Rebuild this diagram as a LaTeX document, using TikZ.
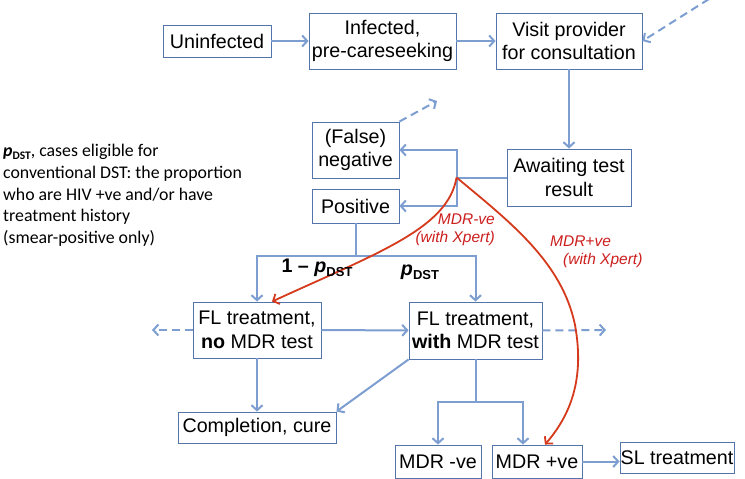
\documentclass[tikz,border=0pt]{standalone}
\usepackage{fontspec}
\setmainfont{Liberation Sans}
\newfontfamily\calfont{Carlito}
\usetikzlibrary{arrows.meta,calc}
\definecolor{boxc}{RGB}{84,116,172}
\definecolor{arrc}{RGB}{125,158,208}
\definecolor{redc}{RGB}{213,58,28}
\definecolor{redt}{RGB}{205,30,30}
\newcommand\pdst{{\bfseries\itshape p}\raisebox{-4pt}{\fontsize{13}{13}\selectfont\bfseries DST}}
\begin{document}
\begin{tikzpicture}[x=1pt,y=-1pt,
  box/.style={draw=boxc,line width=0.9pt,inner sep=0pt,align=center,
    font=\fontsize{19.7}{23.5}\selectfont,text=black},
  arr/.style={draw=arrc,line width=2pt,-{Straight Barb[length=5pt,width=11pt]}},
  plain/.style={draw=arrc,line width=2pt},
  dasharr/.style={arr,dash pattern=on 8pt off 5pt},
  redarr/.style={draw=redc,line width=1.8pt,-{Straight Barb[length=5pt,width=11pt]}},
  redlab/.style={text=redt,font=\fontsize{15.5}{18}\selectfont\itshape,inner sep=0pt},
  blab/.style={font=\fontsize{19.7}{23}\selectfont,inner sep=0pt}]
\fill[white] (0,0) rectangle (745,479);
\useasboundingbox (0,0) rectangle (745,479);

% boxes
\node[box,minimum width=108pt,minimum height=32pt] (unin) at (217,41) {Uninfected};
\node[box,minimum width=147pt,minimum height=56pt] (inf) at (382.5,41) {Infected,\\pre-careseeking};
\node[box,minimum width=146pt,minimum height=56pt] (visit) at (569,41) {Visit provider\\for consultation};
\node[box,minimum width=124pt,minimum height=57pt] (await) at (569,177.5) {Awaiting test\\result};
\node[box,minimum width=87pt,minimum height=56pt] (fneg) at (355.5,150) {(False)\\negative};
\node[box,minimum width=87pt,minimum height=34pt] (pos) at (355.5,206) {Positive};
\node[box,minimum width=128pt,minimum height=56pt] (flno) at (257,330) {FL treatment,\\\textbf{no} MDR test};
\node[box,minimum width=133pt,minimum height=57pt] (flwith) at (475.5,330.5) {FL treatment,\\\textbf{with} MDR test};
\node[box,minimum width=158pt,minimum height=31pt] (comp) at (257,427.5) {Completion, cure};
\node[box,minimum width=86pt,minimum height=33pt] (mdrn) at (438,461.5) {MDR -ve};
\node[box,minimum width=90pt,minimum height=33pt] (mdrp) at (537,461.5) {MDR +ve};
\node[box,minimum width=114pt,minimum height=31pt] (sl) at (677,457.5) {SL treatment};

% note
\node[anchor=north west,align=left,inner sep=0pt,font=\calfont\fontsize{17.8}{21.8}\selectfont] (note) at (3,144)
 {{\bfseries\itshape p}\raisebox{-3pt}{\fontsize{11.5}{11.5}\selectfont\bfseries DST}, cases eligible for\\
  conventional DST: the proportion\\who are HIV +ve and/or have\\treatment history\\(smear-positive only)};

% coordinates
\coordinate (j) at ($(await.west)+(-50,0)$);
\coordinate (bar) at ($(pos.south)+(0,33)$);
\coordinate (bar2) at ($(flwith.south)+(0,43)$);
\coordinate (d1) at (709,-1);
\coordinate (d2) at (437,101);
\coordinate (d3) at (152,330);
\coordinate (d4) at (606,330);

% blue connectors
\draw[arr] (unin) -- (inf);
\draw[arr] (inf) -- (visit);
\draw[arr] (visit) -- (await);
\draw[plain] (await.west) -- (j);
\draw[arr] (j) |- (fneg.east);
\draw[arr] (j) |- (pos.east);
\draw[plain] (pos.south) -- (bar);
\draw[arr] (bar) -| (flno.north);
\draw[arr] (bar) -| (flwith.north);
\draw[arr] (flno) -- (flwith);
\draw[arr] (flno) -- (comp);
\draw[arr] (flwith.south west) -- (comp.north east);
\draw[plain] (flwith.south) -- (bar2);
\draw[arr] (bar2) -| (mdrn.north);
\draw[arr] (bar2) -| ([xshift=-14pt]mdrp.north);
\draw[arr] (mdrp) -- (sl.west |- mdrp);

% dashed
\draw[dasharr] (d1) -- (visit.east);
\draw[dasharr] (fneg.north east) -- (d2);
\draw[dasharr] (flno.west) -- (d3);
\draw[dasharr] (flwith.east) -- (d4);

% red
\draw[redarr] (j) .. controls (448,228) and (380,252) .. ([xshift=15pt]flno.north);
\draw[redarr] (j) .. controls (510,222) and (562,262) .. (575,325) .. controls (586,385) and (566,420) .. ([xshift=8pt]mdrp.north);

% labels
\node[redlab,align=right,anchor=east] (lab1) at (495,229.5) {MDR-ve\\(with Xpert)};
\node[redlab,align=left,anchor=west] (lab2) at (550,251.5) {MDR+ve\\\hspace*{13pt}(with Xpert)};
\node[blab] (l1) at (317,268) {\textbf{1 -- }\pdst};
\node[blab] (l2) at (420,272) {\pdst};
\end{tikzpicture}
\end{document}
